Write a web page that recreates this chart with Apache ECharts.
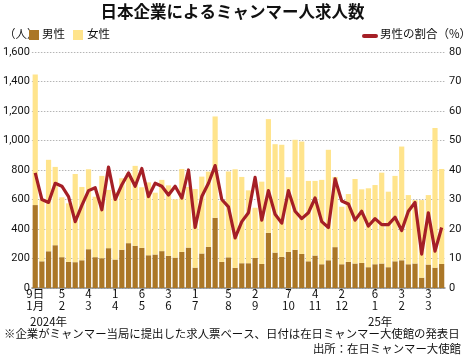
<!DOCTYPE html>
<html><head><meta charset="utf-8">
<script src="https://cdn.jsdelivr.net/npm/echarts@6/dist/echarts.min.js"></script>
<style>html,body{margin:0;padding:0;background:#fff}#c{width:465px;height:360px}</style>
</head><body><div id="c"></div>
<script>
var maleValues = [562,181,249,290,209,177,175,188,263,209,202,270,193,259,304,286,272,222,227,250,218,206,245,274,138,234,279,476,177,208,137,168,168,204,163,374,240,211,245,259,231,181,220,161,188,277,161,177,166,170,141,161,166,141,181,188,161,166,70,159,138,163];
var femaleValues = [885,419,620,531,406,397,598,497,542,410,558,395,455,485,476,542,411,494,419,483,478,395,562,411,533,521,510,687,413,582,668,585,494,340,558,771,735,760,506,746,762,545,506,572,749,476,390,460,573,499,535,537,616,512,579,771,469,430,526,471,946,644];
var maleRatio = [39,30,29,35.5,34.5,31,22.5,28,33,34,26.5,41,30,35,39,34.5,40.5,31,35.5,34.5,31.5,34.5,30.5,40,20.5,31,35.5,41.5,30,27.5,17,22.5,25.5,37.5,23,33,25,22,33,26,23.5,25.5,30.5,22.5,20.5,37,29.5,28.5,23,26,21,23.5,21.5,21.5,24,19.5,26,29,11.5,25.5,12.5,20.5];
var dayLabels = ['9日','','','','5','','','','4','','','','1','','','','6','','','','3','','','','1','','','','','5','','','','2','','','','','7','','','','4','','','','2','','','','','6','','','','3','','','','3','',''];
var monthLabels = ['1月','','','','2','','','','3','','','','4','','','','5','','','','6','','','','7','','','','','8','','','','9','','','','','10','','','','11','','','','12','','','','','1','','','','2','','','','3','',''];
var leftTicks = {min:0, max:1600, interval:200};
var rightTicks = {min:0, max:80, interval:10};

var categories = dayLabels.map(function(d,i){return String(i);});
var FONT = '"Noto Sans CJK JP", "Noto Sans", sans-serif';
var NUMFONT = 'Roboto, "Noto Sans", sans-serif';
var C_MALE = '#AB7727', C_FEMALE = '#FFE48C', C_LINE = '#A51F26';
function isLabeled(i){return dayLabels[i] !== '';}

var chart = echarts.init(document.getElementById('c'), null, {renderer:'canvas'});
chart.setOption({
  animation:false,
  backgroundColor:'#fff',
  grid:{left:31, right:20, top:52, bottom:72, containLabel:false},
  xAxis:{
    type:'category', data:categories,
    axisLine:{show:true, lineStyle:{color:'#8c8c8c', width:1.5}},
    axisTick:{show:true, alignWithLabel:true, length:3, lineStyle:{color:'#8c8c8c'}, interval:function(i){return isLabeled(i);}},
    axisLabel:{interval:function(i){return isLabeled(i);}, margin:-1, fontSize:11.5, lineHeight:12.5, color:'#111', fontFamily:FONT,
      formatter:function(v){var i=+v; return dayLabels[i]+'\n'+monthLabels[i];}},
    splitLine:{show:false}
  },
  yAxis:[
    {type:'value', min:leftTicks.min, max:leftTicks.max, interval:leftTicks.interval,
     axisLine:{show:false}, axisTick:{show:false},
     axisLabel:{margin:2, fontSize:11, color:'#111', fontFamily:NUMFONT, formatter:function(v){return v.toLocaleString('en-US');}},
     splitLine:{show:true, lineStyle:{color:'#b5b5b5', type:[1.5,1.5], width:1}}},
    {type:'value', min:rightTicks.min, max:rightTicks.max, interval:rightTicks.interval,
     axisLine:{show:false}, axisTick:{show:false}, splitLine:{show:false},
     axisLabel:{margin:4, fontSize:11, color:'#111', fontFamily:NUMFONT}}
  ],
  series:[
    {name:'男性', type:'bar', stack:'a', data:maleValues, itemStyle:{color:C_MALE}, barCategoryGap:'22%'},
    {name:'女性', type:'bar', stack:'a', data:femaleValues, itemStyle:{color:C_FEMALE}},
    {name:'男性の割合', type:'line', yAxisIndex:1, data:maleRatio, symbol:'none', lineStyle:{color:C_LINE, width:3.2, join:'round'}, z:5}
  ],
  graphic:[
    {type:'text', left:'center', top:3, style:{text:'日本企業によるミャンマー人求人数', font:'bold 16.5px '+FONT, fill:'#111'}},
    {type:'text', left:4, top:28, style:{text:'（人）', font:'11.5px '+FONT, fill:'#111'}},
    {type:'rect', shape:{x:29, y:30, width:10, height:10}, style:{fill:C_MALE}},
    {type:'text', left:42, top:28, style:{text:'男性', font:'11.5px '+FONT, fill:'#111'}},
    {type:'rect', shape:{x:73, y:30, width:10, height:10}, style:{fill:C_FEMALE}},
    {type:'text', left:87, top:28, style:{text:'女性', font:'11.5px '+FONT, fill:'#111'}},
    {type:'line', shape:{x1:364, y1:36, x2:376, y2:36}, style:{stroke:C_LINE, lineWidth:4, lineCap:'round'}},
    {type:'text', left:380, top:28, style:{text:'男性の割合（%）', font:'11.5px '+FONT, fill:'#111'}},
    {type:'text', left:30, top:316, style:{text:'2024年', font:'11.5px '+FONT, fill:'#111'}},
    {type:'text', left:368, top:316, style:{text:'25年', font:'11.5px '+FONT, fill:'#111'}},
    {type:'text', left:4, top:328, style:{text:'※企業がミャンマー当局に提出した求人票ベース、日付は在日ミャンマー大使館の発表日', font:'11.4px '+FONT, fill:'#111'}},
    {type:'text', right:4, top:343, style:{text:'出所：在日ミャンマー大使館', font:'11.4px '+FONT, fill:'#111'}}
  ]
});
</script></body></html>
